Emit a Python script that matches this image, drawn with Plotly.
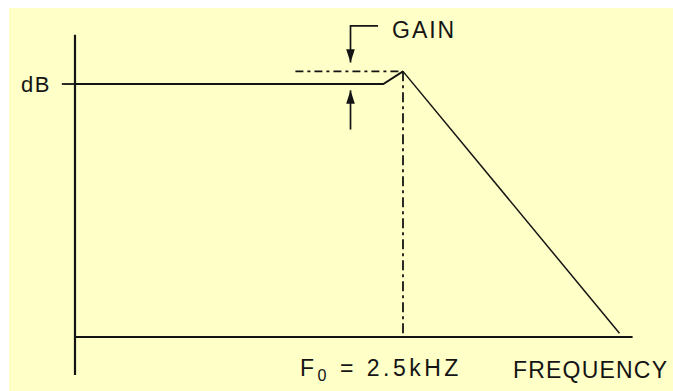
import plotly.graph_objects as go

# ---- data (frequency in kHz, level in dB-like units) ----
F0 = 2.5
resp_f = [0.0, 2.35, 2.5, 4.15]
resp_db = [20.0, 20.0, 21.0, 0.3]
tick_f = [-0.1, 0.0]
tick_db = [20.0, 20.0]
peak_f = [1.68, 2.5]
peak_db = [21.0, 21.0]
f0_line_f = [2.5, 2.5]
f0_line_db = [21.0, 0.0]
xaxis_f = [0.0, 4.25]
xaxis_db = [0.0, 0.0]
yaxis_f = [0.0, 0.0]
yaxis_db = [23.9, -3.0]
bracket_f = [2.31, 2.1, 2.1]
bracket_db = [24.6, 24.6, 21.7]
lower_arrow_f = [2.1, 2.1]
lower_arrow_db = [16.4, 19.5]

labels = {
    "db": "dB",
    "gain": "GAIN",
    "f0": "F<sub>0</sub> = 2.5kHZ",
    "freq": "FREQUENCY",
}

INK = "#141414"
BG = "#FFFFC8"
FONT = "Liberation Sans, Arial, Helvetica, sans-serif"

fig = go.Figure()

def line(xs, ys, width=2.0, dash="solid"):
    fig.add_trace(go.Scatter(x=xs, y=ys, mode="lines",
                             line=dict(color=INK, width=width, dash=dash),
                             hoverinfo="skip", showlegend=False, cliponaxis=False))

def arrow(xs, ys, angle):
    fig.add_trace(go.Scatter(x=xs, y=ys, mode="lines",
                             line=dict(color=INK, width=1.7),
                             hoverinfo="skip", showlegend=False, cliponaxis=False))
    fig.add_trace(go.Scatter(x=[xs[-1]], y=[ys[-1]], mode="markers",
                             marker=dict(symbol="arrow", size=14, angle=angle,
                                         color=INK, line=dict(width=0)),
                             hoverinfo="skip", showlegend=False, cliponaxis=False))

line(yaxis_f, yaxis_db, 2.2)
line(xaxis_f, xaxis_db, 2.2)
line(tick_f, tick_db, 1.8)
line(resp_f[:3], resp_db[:3], 1.9)
line(resp_f[2:], resp_db[2:], 1.5)
line(peak_f, peak_db, 1.8, "8px,4px,3px,4px")
line(f0_line_f, f0_line_db, 1.8, "10px,4px,3px,4px")
arrow(bracket_f, bracket_db, 180)
arrow(lower_arrow_f, lower_arrow_db, 0)

def spaced(t, px):
    return '<span style="letter-spacing:%spx">%s</span>' % (px, t)

fig.add_annotation(x=-0.17, y=20, xref="x", yref="y", text=spaced(labels["db"], 1.5),
                   showarrow=False, xanchor="right", yanchor="middle",
                   font=dict(family=FONT, size=22, color=INK))
fig.add_annotation(x=2.40, y=24.3, xref="x", yref="y", text=spaced(labels["gain"], 2),
                   showarrow=False, xanchor="left", yanchor="middle",
                   font=dict(family=FONT, size=23, color=INK))
fig.add_annotation(x=2.33, y=-2.6, xref="x", yref="y", text=spaced(labels["f0"], 3.5),
                   showarrow=False, xanchor="center", yanchor="middle",
                   font=dict(family=FONT, size=23, color=INK))
fig.add_annotation(x=3.32, y=-2.6, xref="x", yref="y", text=spaced(labels["freq"], 1.2),
                   showarrow=False, xanchor="left", yanchor="middle",
                   font=dict(family=FONT, size=23, color=INK))

fig.update_layout(
    width=673, height=391,
    margin=dict(l=9, r=0, t=8, b=0),
    paper_bgcolor="white", plot_bgcolor=BG,
    xaxis=dict(range=[-0.503, 4.558], visible=False, fixedrange=True),
    yaxis=dict(range=[-4.27, 26.01], visible=False, fixedrange=True),
    showlegend=False,
)

# remove the browser's default body margin / scrollbars so the figure fills the window
fig.write_html("out.html",
               config={"displayModeBar": False, "staticPlot": True},
               post_script="document.documentElement.style.overflow='hidden';"
                           "document.body.style.margin='0';"
                           "document.body.style.overflow='hidden';"
                           "document.documentElement.style.background='%s';"
                           "document.body.style.background='%s';" % (BG, BG))
